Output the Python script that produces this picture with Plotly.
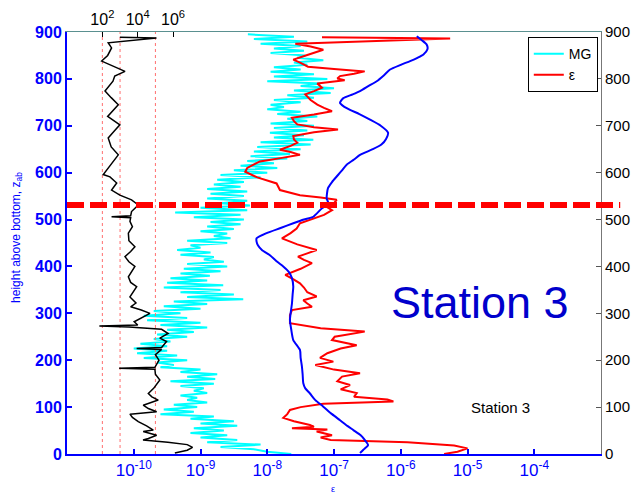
import plotly.graph_objects as go

FONT = "Arial, Liberation Sans, sans-serif"

# ---------------- data ----------------
# MG (cyan) : height (m) and log10 value on bottom axis
MG_Z = [0, 5, 10, 15, 20, 25, 30, 35, 40, 45, 50, 55, 60, 65, 70, 75, 80, 85, 90, 95,
        100, 105, 110, 115, 120, 125, 130, 135, 140, 145, 150, 155, 160, 165, 170, 175, 180, 185, 190, 195,
        200, 205, 210, 215, 220, 225, 230, 235, 240, 245, 250, 255, 260, 265, 270, 275, 280, 285, 290, 295,
        300, 305, 310, 315, 320, 325, 330, 335, 340, 345, 350, 355, 360, 365, 370, 375, 380, 385, 390, 395,
        400, 405, 410, 415, 420, 425, 430, 435, 440, 445, 450, 455, 460, 465, 470, 475, 480, 485, 490, 495,
        500, 505, 510, 515, 520, 525, 530, 535, 540, 545, 550, 555, 560, 565, 570, 575, 580, 585, 590, 595,
        600, 605, 610, 615, 620, 625, 630, 635, 640, 645, 650, 655, 660, 665, 670, 675, 680, 685, 690, 695,
        700, 705, 710, 715, 720, 725, 730, 735, 740, 745, 750, 755, 760, 765, 770, 775, 780, 785, 790, 795,
        800, 805, 810, 815, 820, 825, 830, 835, 840, 845, 850, 855, 860, 865, 870, 875, 880, 885, 890, 895]
MG_LOG = [-7.64, -8.0, -8.2, -8.7, -8.1, -8.9, -8.45, -9.0, -8.6, -9.15, -8.65, -9.1, -8.45, -9.0, -8.5, -9.15, -8.8, -9.6, -9.1, -9.55,
          -9.05, -9.4, -8.9, -9.2, -9.05, -9.3, -8.9, -9.1, -8.95, -9.3, -8.8, -9.45, -8.78, -9.2, -8.75, -9.3, -9.0, -9.6, -9.4, -9.65,
          -9.2, -9.85, -9.35, -9.95, -9.5, -10.0, -9.5, -9.9, -9.45, -9.7, -9.2, -9.65, -9.1, -9.5, -8.9, -9.6, -9.0, -9.8, -9.2, -9.85,
          -9.3, -9.7, -9.0, -9.55, -8.9, -9.4, -8.36, -9.2, -8.5, -9.3, -8.7, -9.55, -8.66, -9.5, -8.9, -9.45, -8.86, -9.3, -8.7, -9.25,
          -8.6, -9.2, -8.65, -8.95, -8.8, -9.3, -8.85, -9.35, -9.0, -9.15, -8.6, -9.2, -8.55, -8.8, -8.6, -9.0, -8.5, -8.9, -8.4, -8.85,
          -8.35, -9.1, -8.4, -9.38, -8.3, -9.0, -8.26, -8.7, -8.3, -8.9, -8.35, -8.85, -8.3, -8.9, -8.4, -8.8, -8.35, -8.75, -8.1, -8.7,
          -8.0, -8.5, -7.85, -8.4, -7.9, -8.3, -7.7, -8.25, -7.66, -8.2, -7.5, -8.15, -7.35, -8.1, -7.31, -7.9, -7.45, -7.96, -7.4, -7.9,
          -7.3, -7.95, -7.4, -7.7, -7.25, -7.85, -7.5, -8.0, -7.75, -7.95, -7.5, -7.9, -7.3, -7.7, -7.05, -7.6, -7.0, -7.5, -7.2, -8.0,
          -7.1, -7.9, -7.3, -7.95, -7.5, -7.9, -7.4, -7.6, -7.16, -7.55, -7.43, -7.95, -7.45, -7.9, -7.5, -8.1, -7.4, -8.2, -7.6, -8.29]

# epsilon (red)
EPS_Z = [0, 5, 12, 18, 25, 30, 35, 40, 48, 52, 55, 58, 62, 70, 77, 85, 94, 100, 107, 112,
         116, 122, 130, 138, 147, 155, 165, 172, 180, 190, 197, 205, 215, 225, 232, 243, 250, 261, 268, 279,
         290, 296, 307, 314, 321, 328, 336, 345, 355, 364, 372, 382, 395, 407, 414, 421, 428, 435, 447, 460,
         471, 481, 492, 500, 510, 520, 527, 535, 542, 547, 552, 563, 577, 590, 602, 610, 618, 624, 631, 638,
         644, 649, 657, 664, 671, 678, 686, 692, 697, 703, 710, 717, 724, 731, 738, 745, 755, 767, 774, 781,
         790, 797, 801, 806, 811, 816, 821, 826, 834, 841, 851, 862, 869, 875, 886, 889]
EPS_LOG = [-5.35, -5.15, -5.0, -5.2, -5.9, -7.05, -7.2, -7.03, -7.26, -7.1, -7.63, -7.3, -7.36, -7.6, -7.76, -7.7, -7.66, -7.5, -7.16, -6.11,
           -6.2, -6.7, -6.66, -6.9, -6.76, -6.95, -6.88, -6.61, -7.0, -7.28, -7.01, -7.21, -7.1, -6.9, -6.66, -7.03, -6.99, -6.54, -7.2, -7.66,
           -7.66, -7.66, -7.63, -7.33, -7.4, -7.46, -7.26, -7.4, -7.45, -7.51, -7.6, -7.73, -7.5, -7.33, -7.45, -7.54, -7.4, -7.26, -7.55, -7.78,
           -7.65, -7.56, -7.51, -7.35, -7.15, -7.03, -7.11, -7.0, -6.96, -7.2, -7.51, -7.81, -7.86, -8.15, -8.33, -8.3, -8.2, -8.11, -7.8, -7.51,
           -7.65, -7.81, -7.65, -7.55, -7.6, -7.61, -7.3, -6.94, -7.3, -7.55, -7.6, -7.63, -7.3, -7.03, -7.15, -7.25, -7.35, -7.43, -7.3, -7.18,
           -7.25, -6.84, -6.95, -6.91, -6.7, -6.54, -7.0, -7.39, -7.5, -7.61, -7.4, -7.16, -7.35, -7.58, -5.26, -7.18]

# blue profile
BLUE_Z = [2, 9, 19, 30, 40, 51, 60, 72, 85, 101, 115, 129, 140, 151, 170, 186, 205, 222, 243, 265,
          286, 300, 321, 340, 357, 375, 389, 400, 410, 424, 435, 445, 453, 460, 471, 482, 492, 500, 506, 524,
          533, 545, 567, 580, 595, 605, 617, 628, 638, 650, 660, 672, 685, 700, 713, 725, 734, 742, 749, 759,
          767, 774, 785, 795, 808, 820, 830, 838, 845, 852, 863, 873, 882, 891]
BLUE_LOG = [-6.61, -6.56, -6.49, -6.54, -6.6, -6.71, -6.8, -6.91, -7.03, -7.16, -7.28, -7.36, -7.43, -7.46, -7.47, -7.48, -7.5, -7.51, -7.61, -7.64,
            -7.66, -7.65, -7.63, -7.62, -7.61, -7.63, -7.68, -7.76, -7.85, -7.96, -8.08, -8.14, -8.16, -8.16, -8.01, -7.8, -7.61, -7.45, -7.31, -7.18,
            -7.08, -7.11, -7.09, -7.03, -6.94, -6.88, -6.81, -6.7, -6.61, -6.42, -6.29, -6.22, -6.19, -6.3, -6.46, -6.62, -6.76, -6.86, -6.91, -6.86,
            -6.72, -6.61, -6.48, -6.36, -6.25, -6.16, -6.0, -5.86, -5.75, -5.66, -5.6, -5.61, -5.68, -5.76]

# black profile (top axis), log10 values
BLK_Z = [2, 8, 14, 20, 25, 28, 30, 33, 40, 48, 51, 60, 69, 78, 85, 90, 97, 104, 115, 122,
         129, 140, 150, 158, 170, 181, 183, 185, 200, 212, 223, 225, 227, 240, 247, 257, 266, 271, 273, 275,
         282, 290, 300, 307, 314, 322, 335, 357, 366, 378, 390, 400, 410, 421, 432, 442, 455, 471, 485, 496,
         504, 506, 508, 517, 531, 542, 552, 563, 578, 591, 596, 610, 625, 638, 655, 674, 690, 702, 720, 745,
         760, 774, 795, 806, 816, 828, 838, 850, 866, 877, 887, 889]
BLK_LOG = [6.1, 6.8, 7.1, 6.8, 5.7, 4.6, 4.3, 4.6, 5.07, 4.31, 4.88, 4.5, 4.03, 3.7, 3.56, 5.07, 4.6, 4.31, 5.16, 4.8,
           4.6, 4.9, 5.1, 5.25, 5.0, 4.97, 2.95, 4.97, 5.2, 5.0, 5.35, 3.94, 5.35, 5.63, 5.25, 5.72, 5.35, 3.5, 1.83, 4.0,
           3.8, 4.2, 4.69, 4.2, 3.6, 3.9, 3.56, 3.94, 3.6, 3.47, 3.7, 3.84, 3.5, 3.28, 3.6, 3.84, 3.5, 3.47, 3.7, 3.56,
           3.6, 2.52, 3.6, 3.65, 4.03, 3.65, 2.99, 2.52, 2.81, 2.43, 2.05, 2.33, 2.6, 2.9, 2.5, 2.33, 2.7, 2.99, 2.3, 2.9,
           2.5, 2.15, 2.6, 2.7, 3.28, 2.6, 1.96, 2.3, 2.52, 2.33, 5.06, 2.99]

REF_LINES = [1e2, 1e3, 1e5]          # dotted reference lines on the top axis
DASH_LEVEL = 531                     # dashed horizontal line height
Y_TICKS = [0, 100, 200, 300, 400, 500, 600, 700, 800, 900]
BOT_TICKS = [1e-10, 1e-9, 1e-8, 1e-7, 1e-6, 1e-5, 1e-4]
BOT_TEXT = ["10<sup>-10</sup>", "10<sup>-9</sup>", "10<sup>-8</sup>", "10<sup>-7</sup>",
            "10<sup>-6</sup>", "10<sup>-5</sup>", "10<sup>-4</sup>"]
TOP_TICKS = [1e2, 1e4, 1e6]
TOP_TEXT = ["10<sup>2</sup>", "10<sup>4</sup>", "10<sup>6</sup>"]

# ---------------- figure ----------------
fig = go.Figure()

for v in REF_LINES:
    fig.add_trace(go.Scatter(x=[v, v], y=[0, 900], mode="lines", xaxis="x2", yaxis="y2",
                             line=dict(color="#ff7070", width=1, dash="dot"), showlegend=False,
                             hoverinfo="skip"))

fig.add_trace(go.Scatter(x=[10 ** v for v in MG_LOG], y=MG_Z, mode="lines", name="MG",
                         line=dict(color="#00ffff", width=2)))
fig.add_trace(go.Scatter(x=[10 ** v for v in EPS_LOG], y=EPS_Z, mode="lines", name="ε",
                         line=dict(color="#ff0000", width=2)))
fig.add_trace(go.Scatter(x=[10 ** v for v in BLUE_LOG], y=BLUE_Z, mode="lines", showlegend=False,
                         line=dict(color="#0000ff", width=2, shape="spline", smoothing=0.6)))
fig.add_trace(go.Scatter(x=[10 ** v for v in BLK_LOG], y=BLK_Z, mode="lines", showlegend=False,
                         xaxis="x2", yaxis="y2",
                         line=dict(color="#000000", width=1.5)))

fig.add_shape(type="line", xref="paper", yref="y", x0=0.0, x1=1.036, y0=DASH_LEVEL, y1=DASH_LEVEL,
              line=dict(color="#ff0000", width=6, dash="17px,6px"))

fig.add_annotation(text="Station 3", xref="paper", yref="paper", x=0.773, y=0.36,
                   xanchor="center", yanchor="middle",
                   showarrow=False, font=dict(family=FONT, size=45, color="#0000cc"))
fig.add_annotation(text="Station 3", xref="paper", yref="paper", x=0.811, y=0.111,
                   xanchor="center", yanchor="middle",
                   showarrow=False, font=dict(family=FONT, size=15, color="#000000"))
fig.add_annotation(text="height above bottom, z<sub>ab</sub>", xref="paper", yref="paper",
                   x=-0.094, y=0.514, textangle=-90, showarrow=False,
                   xanchor="center", yanchor="middle",
                   font=dict(family=FONT, size=12, color="#0000ff"))
fig.add_annotation(text="ε", xref="paper", yref="paper", x=0.498, y=-0.082,
                   xanchor="center", yanchor="middle",
                   showarrow=False, font=dict(family=FONT, size=9, color="#0000ff"))

fig.update_layout(
    width=633, height=493,
    margin=dict(l=67, r=32, t=32, b=39),
    paper_bgcolor="white", plot_bgcolor="white",
    font=dict(family=FONT),
    xaxis=dict(type="log", range=[-11, -3], tickvals=BOT_TICKS, ticktext=BOT_TEXT,
               ticks="inside", ticklen=5, tickcolor="#0000ff", tickwidth=1.5, automargin=False,
               showline=True, linecolor="#0000ff", linewidth=2, showgrid=False, zeroline=False,
               tickfont=dict(size=17, color="#0000ff")),
    xaxis2=dict(type="log", range=[0, 30.2], overlaying="x", side="top", anchor="y2",
                tickvals=TOP_TICKS, ticktext=TOP_TEXT, ticks="inside", ticklen=5, automargin=False,
                tickcolor="#000000", showline=True, linecolor="#5a9090", linewidth=1,
                showgrid=False, zeroline=False, tickfont=dict(size=16, color="#000000")),
    yaxis=dict(range=[0, 900], tickvals=Y_TICKS, ticks="inside", ticklen=5, tickcolor="#0000ff",
               tickwidth=1.5, showline=True, linecolor="#0000ff", linewidth=2, showgrid=False,
               zeroline=False, automargin=False,
               tickfont=dict(size=16, color="#0000ff", weight="bold")),
    yaxis2=dict(range=[0, 900], tickvals=Y_TICKS, overlaying="y", side="right", anchor="x",
                ticks="inside", ticklen=5, tickcolor="#555555", showline=True, linecolor="#777777",
                linewidth=1, showgrid=False, zeroline=False, automargin=False,
                tickfont=dict(size=15, color="#000000")),
    legend=dict(x=0.994, y=0.988, xanchor="right", yanchor="top", bgcolor="white",
                bordercolor="#000000", borderwidth=1, font=dict(size=14, color="#000000"),
                tracegroupgap=0, itemwidth=30),
    showlegend=True,
)

fig.write_html("out.html")
